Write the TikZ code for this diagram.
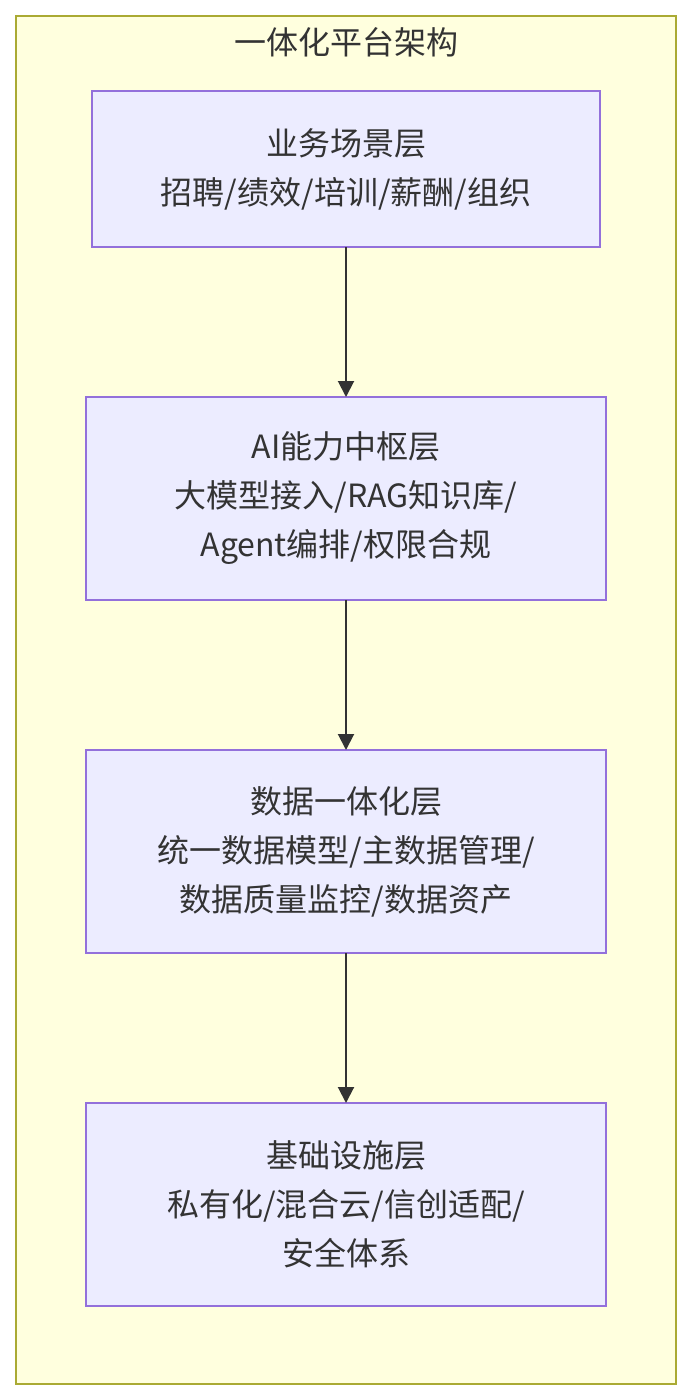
\documentclass[tikz,border=0pt]{standalone}
\usepackage{fontspec}
\setmainfont{Noto Sans CJK SC}
\usetikzlibrary{arrows.meta,positioning}
\definecolor{zonefill}{HTML}{FFFFDE}
\definecolor{zoneline}{HTML}{AAAA33}
\definecolor{layerfill}{HTML}{ECECFF}
\definecolor{layerline}{HTML}{9370DB}
\definecolor{textgray}{HTML}{333333}

\begin{document}
\begin{tikzpicture}[
  x=1pt, y=1pt,
  font=\fontsize{32}{49}\selectfont, >={Triangle[length=16pt,width=16pt]},
  node distance = 150pt,
  zone/.style  = {draw=zoneline, line width=2pt, fill=zonefill,
                  minimum width=660pt, minimum height=1368pt, outer sep=0pt},
  layer/.style = {draw=layerline, line width=2pt, fill=layerfill,
                  text=textgray, align=center, outer sep=0pt,
                  minimum width=520pt, minimum height=203pt},
  flow/.style  = {->, draw=textgray, line width=2pt}
]
\useasboundingbox (0,0) rectangle (692,-1400);

\node[zone] (platform) at (346,-700) {};
\node[text=textgray] (title) at (346,-42) {一体化平台架构};

\node[layer, minimum width=508pt, minimum height=156pt] (biz) at (346,-169)
  {业务场景层\\招聘/绩效/培训/薪酬/组织};
\node[layer, below=of biz] (ai)
  {AI能力中枢层\\大模型接入/RAG知识库/\\Agent编排/权限合规};
\node[layer, below=of ai] (data)
  {数据一体化层\\统一数据模型/主数据管理/\\数据质量监控/数据资产};
\node[layer, below=of data] (infra)
  {基础设施层\\私有化/混合云/信创适配/\\安全体系};

\draw[flow] (biz)  -- (ai);
\draw[flow] (ai)   -- (data);
\draw[flow] (data) -- (infra);

\end{tikzpicture}
\end{document}
